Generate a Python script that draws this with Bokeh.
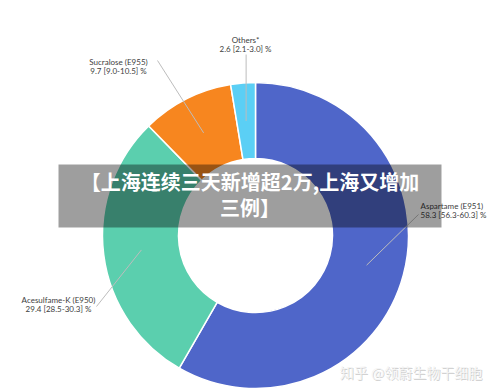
import numpy as np
from bokeh.plotting import figure
from bokeh.models import ColumnDataSource, Range1d
from bokeh.embed import file_html
from bokeh.resources import INLINE
from bokeh.core.properties import value

# ---- data ----
names = ["Aspartame (E951)", "Acesulfame-K (E950)", "Sucralose (E955)", "Others*"]
shares = [58.3, 29.4, 9.7, 2.6]
ci_low = [56.3, 28.5, 9.0, 2.1]
ci_high = [60.3, 30.3, 10.5, 3.0]
colors = ["#4f66c9", "#5bcfae", "#f7861f", "#5bcff5"]
title_lines = ["【上海连续三天新增超2万,上海又增加", "三例】"]
watermark = "知乎 @领蔚生物干细胞"

W, H = 500, 392
def Y(py):
    return H - py

cx, cy = 255, Y(235)
r_in, r_out = 77, 153

total = sum(shares)
cum = np.cumsum([0] + shares)
start = [np.pi / 2 - 2 * np.pi * cum[i] / total for i in range(len(shares))]
end = [np.pi / 2 - 2 * np.pi * cum[i + 1] / total for i in range(len(shares))]
mid = [(s + e) / 2 for s, e in zip(start, end)]

p = figure(width=W, height=H, x_range=Range1d(0, W), y_range=Range1d(0, H),
           toolbar_location=None, output_backend="svg", min_border=0)
p.axis.visible = False
p.grid.visible = False
p.outline_line_color = None
p.background_fill_color = "white"
p.border_fill_color = "white"

src = ColumnDataSource(dict(start=start, end=end, color=colors))
p.annular_wedge(x=cx, y=cy, inner_radius=r_in, outer_radius=r_out,
                inner_radius_units="screen", outer_radius_units="screen",
                start_angle="start", end_angle="end", direction="clock",
                fill_color="color", line_color="white", line_width=1.5, source=src)

# leader lines: from ring middle at slice mid-angle to the label
r_mid = (r_in + r_out) / 2
anchors = [(418, Y(214)), (96, Y(306)), (157, Y(60)), (None, Y(54))]
xs, ys = [], []
for m, (ax, ay) in zip(mid, anchors):
    px = cx + r_mid * np.cos(m)
    py = cy + r_mid * np.sin(m)
    if ax is None:
        ax = px
    xs.append([px, ax])
    ys.append([py, ay])
p.multi_line(xs=xs, ys=ys, line_color="#bdbdbd", line_width=1)

# labels
lab_pos = [(420, Y(205), "left"), (58, Y(299), "center"), (118, Y(61), "center"), (245, Y(39.5), "center")]
for n, s, lo, hi, (lx, ly, al) in zip(names, shares, ci_low, ci_high, lab_pos):
    p.text(x=[lx, lx], y=[ly, ly - 9], text=[n, f"{s} [{lo}-{hi}] %"],
           text_align=al, text_baseline="middle", text_font=value("Lato"),
           text_font_size="8px", text_color="#404040")

# title banner
p.quad(left=58, right=441, top=Y(164), bottom=Y(227), fill_color="black",
       fill_alpha=0.38, line_color=None)
p.text(x=[249.5, 249.5], y=[Y(181), Y(207)], text=title_lines,
       text_align="center", text_baseline="middle",
       text_font=value("Noto Sans CJK SC"), text_font_style="bold",
       text_font_size="20px", text_color="white")

# watermark
p.text(x=[411.5], y=[Y(372)], text=[watermark], text_align="center",
       text_baseline="middle", text_font=value("Noto Sans CJK SC"),
       text_font_size="14px", text_color="#9a9a9a", text_alpha=0.45)
p.text(x=[410.5], y=[Y(371)], text=[watermark], text_align="center",
       text_baseline="middle", text_font=value("Noto Sans CJK SC"),
       text_font_size="14px", text_color="#f4f4f4", text_alpha=0.9)

open("out.html", "w").write(file_html(p, INLINE))
